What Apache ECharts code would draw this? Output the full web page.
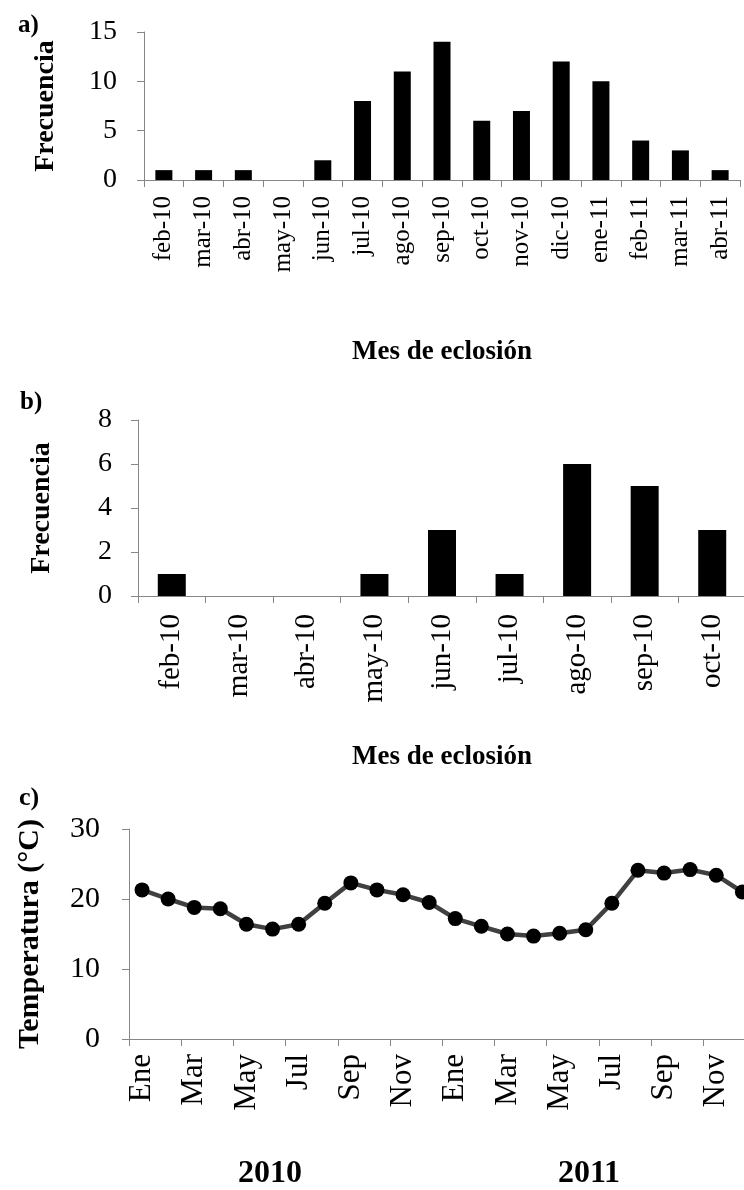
<!DOCTYPE html>
<html>
<head>
<meta charset="utf-8">
<script src="https://cdn.jsdelivr.net/npm/echarts@6/dist/echarts.min.js"></script>
<style>
html,body{margin:0;padding:0;background:#fff;overflow:hidden;width:744px;height:1190px;}
#chart{width:770px;height:1190px;}
</style>
</head>
<body>
<div id="chart"></div>
<script>
// Panel a
const monthsA = ['feb-10','mar-10','abr-10','may-10','jun-10','jul-10','ago-10','sep-10','oct-10','nov-10','dic-10','ene-11','feb-11','mar-11','abr-11'];
const freqA = [1,1,1,0,2,8,11,14,6,7,12,10,4,3,1];
// Panel b
const monthsB = ['feb-10','mar-10','abr-10','may-10','jun-10','jul-10','ago-10','sep-10','oct-10'];
const freqB = [1,0,0,1,3,1,6,5,3];
// Panel c
const monthsC = ['Ene','Feb','Mar','Abr','May','Jun','Jul','Ago','Sep','Oct','Nov','Dic',
                 'Ene','Feb','Mar','Abr','May','Jun','Jul','Ago','Sep','Oct','Nov','Dic'];
const tempC = [21.3,20.0,18.8,18.6,16.4,15.7,16.4,19.4,22.3,21.3,20.6,19.5,
               17.2,16.1,15.0,14.7,15.1,15.6,19.4,24.1,23.7,24.2,23.4,21.0];
const years = ['2010','2011'];

const FONT = '"Liberation Serif","Times New Roman",serif';
const AXIS = '#868686';

const chart = echarts.init(document.getElementById('chart'), null, {renderer:'canvas'});

function catAxis(idx, data, fontSize, margin, extra) {
  return Object.assign({
    type:'category', gridIndex:idx, data:data, boundaryGap:true,
    axisLine:{show:true, lineStyle:{color:AXIS, width:1}},
    axisTick:{show:true, length:7, lineStyle:{color:AXIS}},
    axisLabel:{rotate:90, interval:0, margin:margin, color:'#000', fontFamily:FONT, fontSize:fontSize},
    splitLine:{show:false}
  }, extra || {});
}
function valAxis(idx, max, interval, name, nameGap, fontSize, margin, nameSize) {
  return {
    type:'value', gridIndex:idx, min:0, max:max, interval:interval,
    name:name, nameLocation:'middle', nameRotate:90, nameGap:nameGap,
    nameTextStyle:{color:'#000', fontFamily:FONT, fontWeight:'bold', fontSize:nameSize},
    axisLine:{show:true, lineStyle:{color:AXIS, width:1}},
    axisTick:{show:true, length:7, lineStyle:{color:AXIS}},
    axisLabel:{margin:margin, color:'#000', fontFamily:FONT, fontSize:fontSize},
    splitLine:{show:false}
  };
}

function txt(text, x, y, size, align) {
  return {type:'text', x:x, y:y, style:{text:text, fill:'#000', font:'bold '+size+'px '+FONT, textAlign:align||'center', textVerticalAlign:'middle'}};
}

chart.setOption({
  animation:false,
  backgroundColor:'#fff',
  grid:[
    {left:144, top:32, width:596, height:148},
    {left:138, top:420, width:608, height:176},
    {left:129, top:829, width:626.4, height:210}
  ],
  xAxis:[
    catAxis(0, monthsA, 25, 16),
    catAxis(1, monthsB, 29, 18),
    catAxis(2, monthsC, 31, 15, {
      axisTick:{show:true, length:7, interval:1, lineStyle:{color:AXIS}},
      axisLabel:{rotate:90, interval:1, margin:15, color:'#000', fontFamily:FONT, fontSize:31}
    })
  ],
  yAxis:[
    valAxis(0, 15, 5, 'Frecuencia', 84, 28, 27, 28),
    valAxis(1, 8, 2, 'Frecuencia', 82, 28, 26, 28),
    valAxis(2, 30, 10, 'Temperatura (°C)', 84, 30, 29, 30)
  ],
  series:[
    {type:'bar', xAxisIndex:0, yAxisIndex:0, data:freqA, barWidth:17,
     itemStyle:{color:'#000', borderColor:'#000', borderWidth:0}},
    {type:'bar', xAxisIndex:1, yAxisIndex:1, data:freqB, barWidth:28,
     itemStyle:{color:'#000', borderColor:'#000', borderWidth:0}},
    {type:'line', xAxisIndex:2, yAxisIndex:2, data:tempC,
     lineStyle:{color:'#404040', width:4.5},
     symbol:'circle', symbolSize:15, showSymbol:true,
     itemStyle:{color:'#000', borderWidth:0}}
  ],
  graphic:[
    txt('a)', 18, 26, 25, 'left'),
    txt('b)', 20, 403, 25, 'left'),
    txt('c)', 19, 798, 26, 'left'),
    txt('Mes de eclosión', 442, 352, 27),
    txt('Mes de eclosión', 442, 757, 27),
    txt(years[0], 270, 1174, 32),
    txt(years[1], 589, 1174, 32)
  ]
});
</script>
</body>
</html>
